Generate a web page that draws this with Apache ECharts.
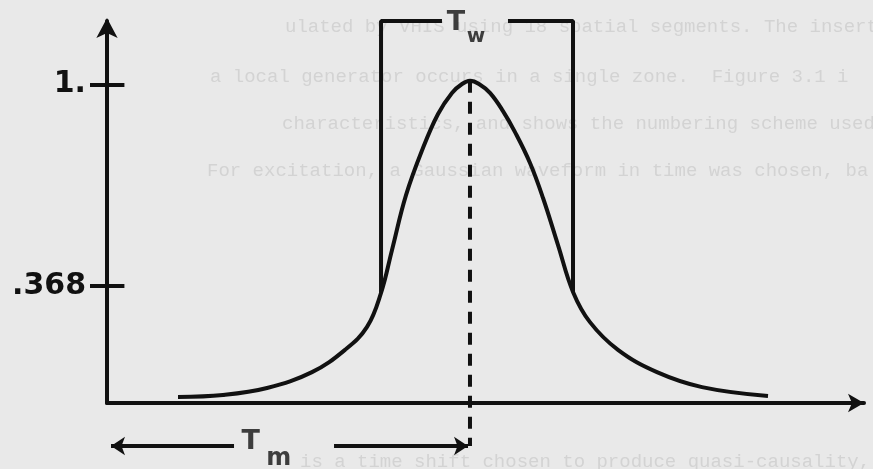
<!DOCTYPE html>
<html>
<head>
<meta charset="UTF-8">
<title>gaussian pulse</title>
<style>
  html, body { margin: 0; padding: 0; background: #e9e9e9; }
  #chart { width: 873px; height: 469px; }
</style>
<script src="https://cdn.jsdelivr.net/npm/echarts@6/dist/echarts.min.js"></script>
</head>
<body>
<div id="chart"></div>
<script>
// pulse: time (arbitrary units) and normalised amplitude
var pulseT = [9.38, 15.32, 21.14, 27.08, 31.44, 34.35, 36.20, 37.65, 39.50, 41.74, 43.73, 45.57, 46.90,
              47.95, 49.14, 50.59, 52.31, 53.90, 55.88, 57.60, 59.58, 61.56, 63.80, 67.50, 72.65, 78.60, 87.32];
var pulseA = [0.019, 0.025, 0.047, 0.097, 0.167, 0.239, 0.346, 0.481, 0.653, 0.801, 0.908, 0.974, 1.002,
              1.012, 1.002, 0.974, 0.917, 0.851, 0.754, 0.644, 0.496, 0.349, 0.254, 0.167, 0.097, 0.050, 0.022];

// T_w window: edges, top, gap left for the label, where the sides meet the pulse
var windowEdges = [36.20, 61.56];
var windowTop = 1.2;
var windowGap = [44.25, 52.97];
var windowFoot = [0.346, 0.349];

// T_m: centre time, peak, level of the arrow under the axis
var peakT = 47.95;
var peakA = 1.012;
var tmLevel = -0.135;
var tmArrowLeft = [16.78, 0.53];
var tmArrowRight = [29.99, 47.69];

var yTickValues = [0.368, 1];
var yTickLabels = ['.368', '1.'];

// subscripted labels: [text, t, a, font size]
var labelTokens = [
  ['T', 46.1, 1.194, 27],
  ['w', 48.75, 1.15, 20],
  ['T', 19.0, -0.123, 27],
  ['m', 22.7, -0.175, 24]
];

// typewriter text showing through from the other side of the page
var bgText = [
  ['ulated by VHIS using 18 spatial segments. The insertion o', 285, 28],
  ['a local generator occurs in a single zone.  Figure 3.1 i', 210, 78],
  ['characteristics, and shows the numbering scheme used.', 282, 125],
  ['For excitation, a Gaussian waveform in time was chosen, ba', 207, 172],
  ['is a time shift chosen to produce quasi-causality, and', 300, 463]
];

var ink = '#111';
var chart = echarts.init(document.getElementById('chart'));

var pulse = pulseT.map(function (t, i) { return [t, pulseA[i]]; });

var option = {
  backgroundColor: '#e9e9e9',
  animation: false,
  grid: { left: 107, right: 9, top: 21, bottom: 66 },
  xAxis: {
    type: 'value', min: 0, max: 100,
    axisLine: { show: true, lineStyle: { color: ink, width: 4 }, symbol: ['none', 'arrow'], symbolSize: [14, 16] },
    axisTick: { show: false },
    axisLabel: { show: false },
    splitLine: { show: false }
  },
  yAxis: {
    type: 'value', min: 0, max: 1.2,
    axisLine: { show: true, lineStyle: { color: ink, width: 4 }, symbol: ['none', 'arrow'], symbolSize: [16, 20], symbolOffset: [0, 3] },
    axisTick: { show: true, customValues: yTickValues, length: 17, lineStyle: { color: ink, width: 4 } },
    axisLabel: {
      show: true, customValues: yTickValues, margin: 21,
      color: ink, fontFamily: 'DejaVu Sans', fontWeight: 'bold', fontSize: 30,
      formatter: function (v) {
        var i = yTickValues.indexOf(v);
        return i >= 0 ? yTickLabels[i] : '';
      }
    },
    splitLine: { show: false }
  },
  graphic: bgText.map(function (b) {
    return {
      type: 'text', left: b[1], top: b[2] - 11, z: -10, silent: true,
      style: { text: b[0], fill: '#d3d3d3', font: '19px "Liberation Mono"' }
    };
  }),
  series: [
    {
      type: 'line', data: pulse, smooth: 0.4, showSymbol: false,
      lineStyle: { color: ink, width: 4 }
    },
    {
      type: 'line', showSymbol: false,
      data: [[windowEdges[0], windowFoot[0]], [windowEdges[0], windowTop], [windowGap[0], windowTop]],
      lineStyle: { color: ink, width: 4 }
    },
    {
      type: 'line', showSymbol: false,
      data: [[windowGap[1], windowTop], [windowEdges[1], windowTop], [windowEdges[1], windowFoot[1]]],
      lineStyle: { color: ink, width: 4 }
    },
    {
      type: 'line', showSymbol: false, clip: false,
      data: [[peakT, peakA], [peakT, tmLevel]],
      lineStyle: { color: ink, width: 4, type: [12, 9] }
    },
    {
      type: 'lines', coordinateSystem: 'cartesian2d', clip: false,
      symbol: ['none', 'arrow'], symbolSize: 14,
      lineStyle: { color: ink, width: 4, opacity: 1 },
      data: [
        { coords: [[tmArrowLeft[0], tmLevel], [tmArrowLeft[1], tmLevel]] },
        { coords: [[tmArrowRight[0], tmLevel], [tmArrowRight[1], tmLevel]] }
      ]
    },
    {
      // inner half of the y ticks
      type: 'lines', coordinateSystem: 'cartesian2d', clip: false,
      lineStyle: { color: ink, width: 4, opacity: 1 },
      data: yTickValues.map(function (v) { return { coords: [[0, v], [2.3, v]] }; })
    },
    {
      type: 'scatter', symbolSize: 0, clip: false,
      data: labelTokens.map(function (l) {
        return {
          value: [l[1], l[2]],
          label: {
            show: true, position: 'inside', formatter: l[0],
            color: ink, fontFamily: 'DejaVu Sans', fontWeight: 'bold', fontSize: l[3]
          }
        };
      })
    }
  ]
};
chart.setOption(option);
</script>
</body>
</html>
